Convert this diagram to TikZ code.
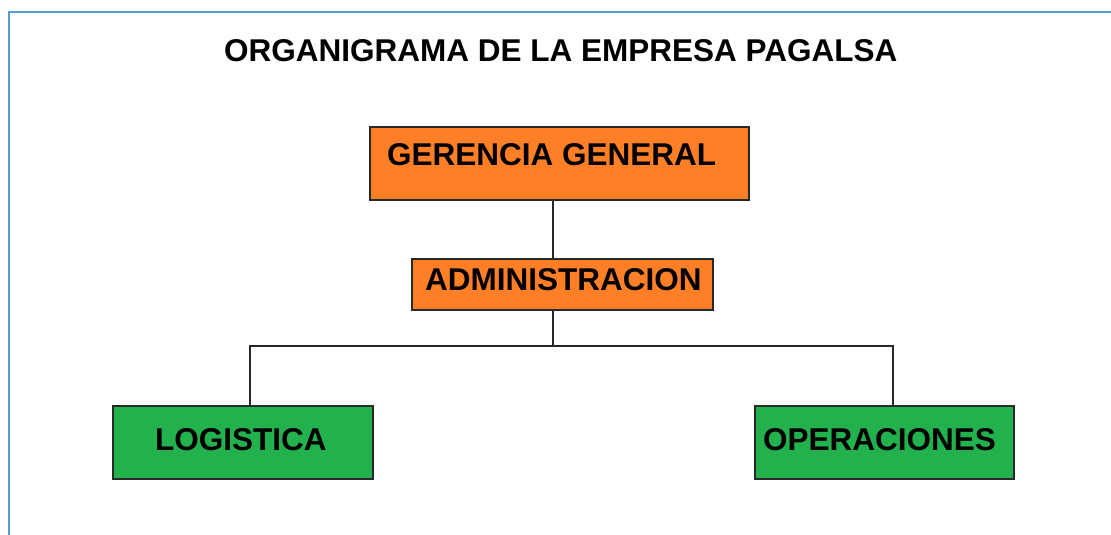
\documentclass[tikz,border=0pt]{standalone}
\usepackage{fontspec}
\setmainfont{Liberation Sans}
\definecolor{orgorange}{RGB}{255,127,39}
\definecolor{orggreen}{RGB}{34,177,76}
\definecolor{framblue}{RGB}{91,155,213}
\definecolor{edgegray}{RGB}{40,40,40}
\begin{document}
\begin{tikzpicture}[x=1pt,y=-1pt,
  box/.style={draw=edgegray,line width=1.3pt,inner sep=0pt,minimum width=#1},
  orgbox/.style={box=#1,fill=orgorange},
  grnbox/.style={box=#1,fill=orggreen},
  lbl/.style={anchor=base west,inner sep=0pt,font=\fontsize{31.5}{36}\selectfont\bfseries},
  link/.style={draw=edgegray,line width=1.3pt}]
\useasboundingbox (0,0) rectangle (1111,535);
\fill[white] (0,0) rectangle (1111,535);
\draw[framblue,line width=1.6pt] (9,540) -- (9,12) -- (1120,12);
\node[lbl] (title) at (224,62) {ORGANIGRAMA DE LA EMPRESA PAGALSA};
\node[orgbox=379pt,minimum height=73pt] (ger) at (559.5,163.5) {};
\node[orgbox=301pt,minimum height=51pt] (adm) at (562.5,284.5) {};
\node[grnbox=260pt,minimum height=73pt] (log) at (243,442.5) {};
\node[grnbox=259pt,minimum height=73pt] (ope) at (884.5,442.5) {};
\node[lbl] (tger) at (387,165) {GERENCIA GENERAL};
\node[lbl] (tadm) at (425,290) {ADMINISTRACION};
\node[lbl] (tlog) at (155,450) {LOGISTICA};
\node[lbl] (tope) at (763,450) {OPERACIONES};
\coordinate (j) at (553,346);
\coordinate (jl) at (250,346);
\coordinate (jr) at (893,346);
\draw[link] (ger.south -| j) -- (adm.north -| j);
\draw[link] (adm.south -| j) -- (j);
\draw[link] (log.north -| jl) -- (jl) -- (jr) -- (ope.north -| jr);
\end{tikzpicture}
\end{document}
